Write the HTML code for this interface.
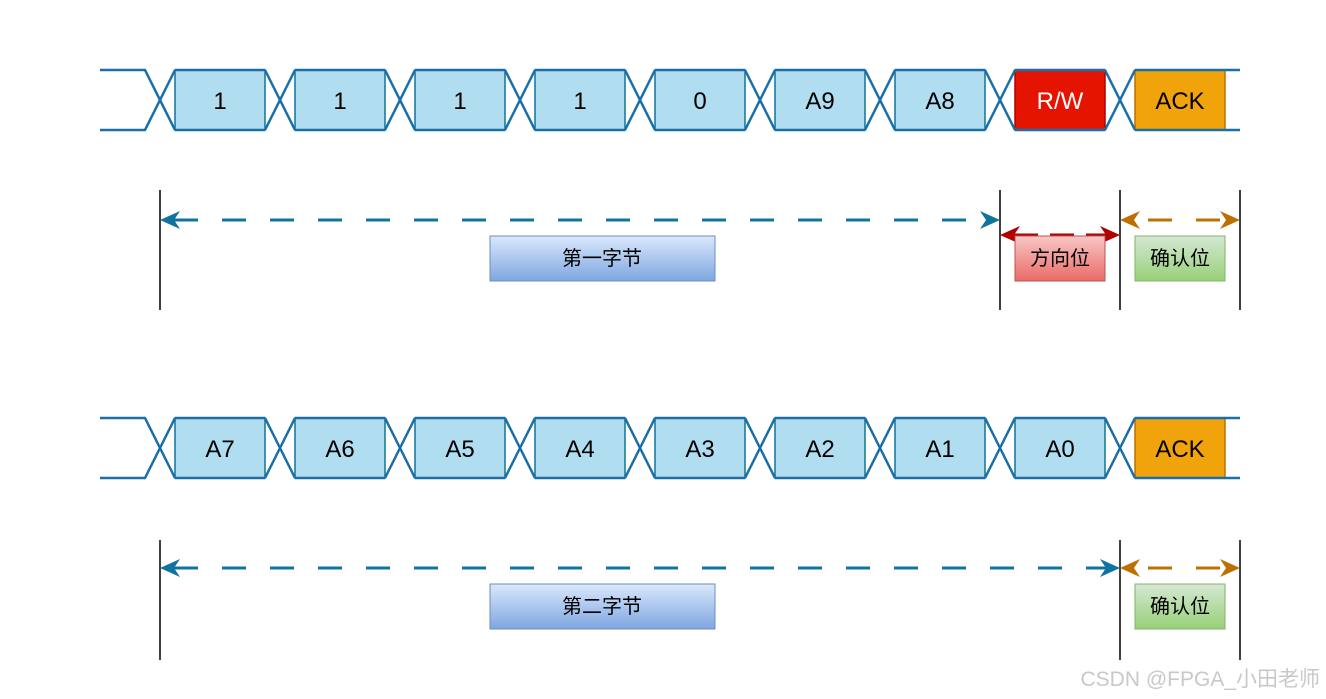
<!DOCTYPE html>
<html><head><meta charset="utf-8"><style>
html,body{margin:0;padding:0;background:#fff;}
svg{display:block;}
text{font-family:"Liberation Sans","Noto Sans CJK SC",sans-serif;}
</style></head><body>
<svg width="1326" height="699" viewBox="0 0 1326 699" xmlns="http://www.w3.org/2000/svg">
<defs>
<linearGradient id="gb" x1="0" y1="0" x2="0" y2="1"><stop offset="0" stop-color="#dae8fc"/><stop offset="1" stop-color="#7ea6e0"/></linearGradient>
<linearGradient id="gr" x1="0" y1="0" x2="0" y2="1"><stop offset="0" stop-color="#f8c6c6"/><stop offset="1" stop-color="#ea6b66"/></linearGradient>
<linearGradient id="gg" x1="0" y1="0" x2="0" y2="1"><stop offset="0" stop-color="#d5e8d4"/><stop offset="1" stop-color="#97d077"/></linearGradient>
</defs>

<!-- Row 1 -->
<g>
<rect x="175" y="70" width="90" height="60" fill="#b1ddf0" stroke="#10739e" stroke-width="1.5"/>
<rect x="295" y="70" width="90" height="60" fill="#b1ddf0" stroke="#10739e" stroke-width="1.5"/>
<rect x="415" y="70" width="90" height="60" fill="#b1ddf0" stroke="#10739e" stroke-width="1.5"/>
<rect x="535" y="70" width="90" height="60" fill="#b1ddf0" stroke="#10739e" stroke-width="1.5"/>
<rect x="655" y="70" width="90" height="60" fill="#b1ddf0" stroke="#10739e" stroke-width="1.5"/>
<rect x="775" y="70" width="90" height="60" fill="#b1ddf0" stroke="#10739e" stroke-width="1.5"/>
<rect x="895" y="70" width="90" height="60" fill="#b1ddf0" stroke="#10739e" stroke-width="1.5"/>
<rect x="1015" y="70" width="90" height="60" fill="#e51400" stroke="#b20000" stroke-width="1.5"/>
<rect x="1135" y="70" width="90" height="60" fill="#f0a30a" stroke="#bd7000" stroke-width="1.5"/>
<path fill="none" stroke="#1a6fa8" stroke-width="2.5" d="
M100,70 H145 L175,130 M100,130 H145 L175,70
M265,70 L295,130 M265,130 L295,70
M385,70 L415,130 M385,130 L415,70
M505,70 L535,130 M505,130 L535,70
M625,70 L655,130 M625,130 L655,70
M745,70 L775,130 M745,130 L775,70
M865,70 L895,130 M865,130 L895,70
M985,70 L1015,130 M985,130 L1015,70
M1105,70 L1135,130 M1105,130 L1135,70
M175,70 H265 M295,70 H385 M415,70 H505 M535,70 H625 M655,70 H745 M775,70 H865 M895,70 H985 M1015,70 H1105 M1135,70 H1240
M175,130 H265 M295,130 H385 M415,130 H505 M535,130 H625 M655,130 H745 M775,130 H865 M895,130 H985 M1015,130 H1105 M1135,130 H1240"/>
<g font-size="24" text-anchor="middle">
<text x="220" y="109">1</text><text x="340" y="109">1</text><text x="460" y="109">1</text><text x="580" y="109">1</text>
<text x="700" y="109">0</text><text x="820" y="109">A9</text><text x="940" y="109">A8</text>
<text x="1060" y="109" fill="#fff">R/W</text><text x="1180" y="109">ACK</text>
</g>
</g>

<!-- Row 1 annotations -->
<g stroke="#000" stroke-width="1.5">
<line x1="160" y1="190" x2="160" y2="310"/><line x1="1000" y1="190" x2="1000" y2="310"/>
<line x1="1120" y1="190" x2="1120" y2="310"/><line x1="1240" y1="190" x2="1240" y2="310"/>
</g>
<line x1="174" y1="220" x2="986" y2="220" stroke="#10739e" stroke-width="3" stroke-dasharray="24,24"/>
<path d="M160,220 L180,211 L174,220 L180,229Z" fill="#10739e"/>
<path d="M1000,220 L980,211 L986,220 L980,229Z" fill="#10739e"/>
<line x1="1014" y1="235" x2="1106" y2="235" stroke="#b20000" stroke-width="3" stroke-dasharray="24,12"/>
<path d="M1000,235 L1020,226 L1014,235 L1020,244Z" fill="#b20000"/>
<path d="M1120,235 L1100,226 L1106,235 L1100,244Z" fill="#b20000"/>
<line x1="1134" y1="220" x2="1226" y2="220" stroke="#bd7000" stroke-width="3" stroke-dasharray="24,24" stroke-dashoffset="-14"/>
<path d="M1120,220 L1140,211 L1134,220 L1140,229Z" fill="#bd7000"/>
<path d="M1240,220 L1220,211 L1226,220 L1220,229Z" fill="#bd7000"/>
<rect x="490" y="236" width="225" height="45" fill="url(#gb)" stroke="#6c8ebf"/>
<rect x="1015" y="236" width="90" height="45" fill="url(#gr)" stroke="#b85450"/>
<rect x="1135" y="236" width="90" height="45" fill="url(#gg)" stroke="#82b366"/>
<g font-size="20" text-anchor="middle">
<text x="602" y="265">第一字节</text><text x="1060" y="265">方向位</text><text x="1180" y="265">确认位</text>
</g>

<!-- Row 2 -->
<g>
<rect x="175" y="418" width="90" height="60" fill="#b1ddf0" stroke="#10739e" stroke-width="1.5"/>
<rect x="295" y="418" width="90" height="60" fill="#b1ddf0" stroke="#10739e" stroke-width="1.5"/>
<rect x="415" y="418" width="90" height="60" fill="#b1ddf0" stroke="#10739e" stroke-width="1.5"/>
<rect x="535" y="418" width="90" height="60" fill="#b1ddf0" stroke="#10739e" stroke-width="1.5"/>
<rect x="655" y="418" width="90" height="60" fill="#b1ddf0" stroke="#10739e" stroke-width="1.5"/>
<rect x="775" y="418" width="90" height="60" fill="#b1ddf0" stroke="#10739e" stroke-width="1.5"/>
<rect x="895" y="418" width="90" height="60" fill="#b1ddf0" stroke="#10739e" stroke-width="1.5"/>
<rect x="1015" y="418" width="90" height="60" fill="#b1ddf0" stroke="#10739e" stroke-width="1.5"/>
<rect x="1135" y="418" width="90" height="60" fill="#f0a30a" stroke="#bd7000" stroke-width="1.5"/>
<path fill="none" stroke="#1a6fa8" stroke-width="2.5" d="
M100,418 H145 L175,478 M100,478 H145 L175,418
M265,418 L295,478 M265,478 L295,418
M385,418 L415,478 M385,478 L415,418
M505,418 L535,478 M505,478 L535,418
M625,418 L655,478 M625,478 L655,418
M745,418 L775,478 M745,478 L775,418
M865,418 L895,478 M865,478 L895,418
M985,418 L1015,478 M985,478 L1015,418
M1105,418 L1135,478 M1105,478 L1135,418
M175,418 H265 M295,418 H385 M415,418 H505 M535,418 H625 M655,418 H745 M775,418 H865 M895,418 H985 M1015,418 H1105 M1135,418 H1240
M175,478 H265 M295,478 H385 M415,478 H505 M535,478 H625 M655,478 H745 M775,478 H865 M895,478 H985 M1015,478 H1105 M1135,478 H1240"/>
<g font-size="24" text-anchor="middle">
<text x="220" y="457">A7</text><text x="340" y="457">A6</text><text x="460" y="457">A5</text><text x="580" y="457">A4</text>
<text x="700" y="457">A3</text><text x="820" y="457">A2</text><text x="940" y="457">A1</text>
<text x="1060" y="457">A0</text><text x="1180" y="457">ACK</text>
</g>
</g>

<!-- Row 2 annotations -->
<g stroke="#000" stroke-width="1.5">
<line x1="160" y1="540" x2="160" y2="660"/><line x1="1120" y1="540" x2="1120" y2="660"/><line x1="1240" y1="540" x2="1240" y2="660"/>
</g>
<line x1="174" y1="568" x2="1106" y2="568" stroke="#10739e" stroke-width="3" stroke-dasharray="24,24"/>
<path d="M160,568 L180,559 L174,568 L180,577Z" fill="#10739e"/>
<path d="M1120,568 L1100,559 L1106,568 L1100,577Z" fill="#10739e"/>
<line x1="1134" y1="568" x2="1226" y2="568" stroke="#bd7000" stroke-width="3" stroke-dasharray="24,24" stroke-dashoffset="-14"/>
<path d="M1120,568 L1140,559 L1134,568 L1140,577Z" fill="#bd7000"/>
<path d="M1240,568 L1220,559 L1226,568 L1220,577Z" fill="#bd7000"/>
<rect x="490" y="584" width="225" height="45" fill="url(#gb)" stroke="#6c8ebf"/>
<rect x="1135" y="584" width="90" height="45" fill="url(#gg)" stroke="#82b366"/>
<g font-size="20" text-anchor="middle">
<text x="602" y="613">第二字节</text><text x="1180" y="613">确认位</text>
</g>

<text x="1320" y="686" font-size="21" fill="#c8c8c8" text-anchor="end">CSDN @FPGA_小田老师</text>
</svg>
</body></html>
